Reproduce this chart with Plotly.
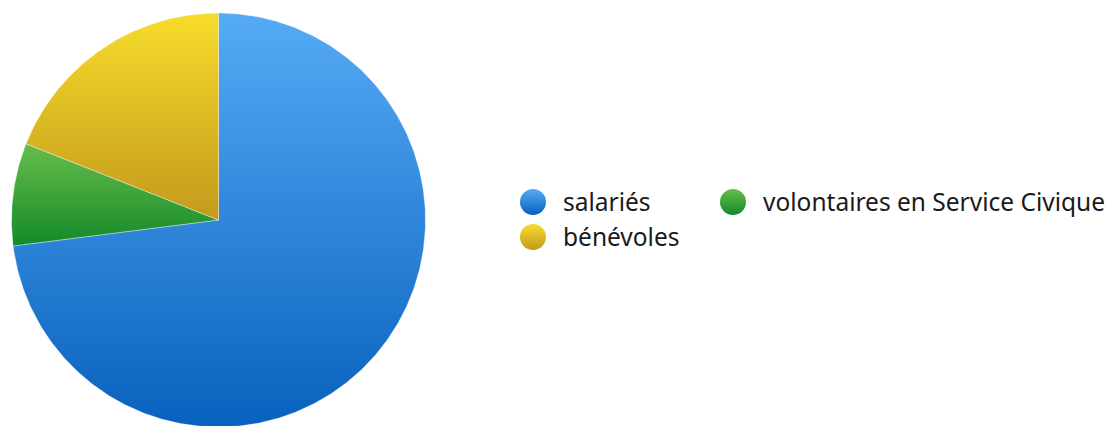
import numpy as np
import plotly.graph_objects as go

# Répartition des effectifs
categories = ["salariés", "volontaires en Service Civique", "bénévoles"]
values = [73, 8, 19]

# Dégradés verticaux (haut clair -> bas foncé) par catégorie
top_colors = ["#56abf6", "#67bd4a", "#f7dc2c"]
bottom_colors = ["#0861bd", "#138a2a", "#c39a1c"]

W, H = 1108, 426
cx, cy, r = 218.5, 220.0, 207.0  # centre et rayon du camembert en pixels

fig = go.Figure()

# Secteurs : polygones calculés à partir des parts cumulées (sens horaire depuis midi)
total = float(sum(values))
start = 0.0
for name, v, ct, cb in zip(categories, values, top_colors, bottom_colors):
    a0 = start / total * 2 * np.pi
    a1 = (start + v) / total * 2 * np.pi
    start += v
    t = np.linspace(a0, a1, max(8, int(v * 6)))
    xs = np.concatenate([[0.0], np.sin(t), [0.0]])
    ys = np.concatenate([[0.0], np.cos(t), [0.0]])
    fig.add_trace(go.Scatter(
        x=xs, y=ys, mode="lines", fill="toself",
        line=dict(color="rgba(255,255,255,0.6)", width=0.6),
        fillgradient=dict(type="vertical", colorscale=[[0, cb], [1, ct]]),
        name=name, showlegend=False, hoverinfo="name",
        xaxis="x", yaxis="y",
    ))

# Légende : pastilles en dégradé, deux colonnes
col_x = [533, 733]
row_y = [202, 237]
for i, (name, ct, cb) in enumerate(zip(categories, top_colors, bottom_colors)):
    lx = col_x[i % 2]
    ly = row_y[i // 2]
    fig.add_trace(go.Scatter(
        x=[lx], y=[ly], mode="markers",
        marker=dict(size=26, color=ct, symbol="circle", line=dict(width=0),
                    gradient=dict(type="vertical", color=cb)),
        showlegend=False, hoverinfo="skip", xaxis="x2", yaxis="y2",
    ))
    fig.add_annotation(
        x=lx + 28, y=ly - 1, xref="x2", yref="y2",
        text=name,
        showarrow=False, xanchor="left", yanchor="middle",
        font=dict(family="Noto Sans", size=24.5, color="#1a1a1a"),
    )

fig.update_layout(
    width=W, height=H,
    margin=dict(l=0, r=0, t=0, b=0),
    paper_bgcolor="white", plot_bgcolor="rgba(0,0,0,0)",
    showlegend=False,
    # Axe du camembert : rayon unité, centre placé en (cx, cy) pixels
    xaxis=dict(domain=[0, 1], range=[-cx / r, (W - cx) / r],
               visible=False, fixedrange=True),
    yaxis=dict(domain=[0, 1], range=[(cy - H) / r, cy / r],
               visible=False, fixedrange=True),
    # Axe de la légende en pixels
    xaxis2=dict(domain=[0, 1], range=[0, W], visible=False, fixedrange=True,
                anchor="y2", overlaying="x"),
    yaxis2=dict(domain=[0, 1], range=[H, 0], visible=False, fixedrange=True,
                anchor="x2", overlaying="y"),
)

fig.write_html("out.html")
